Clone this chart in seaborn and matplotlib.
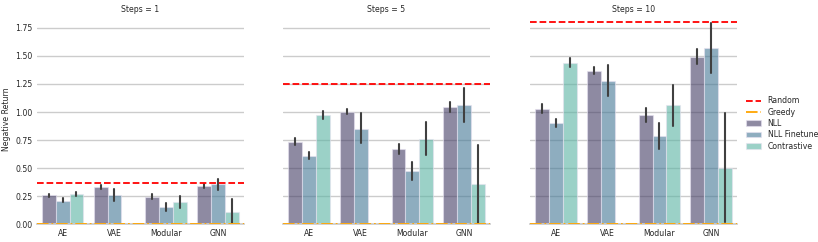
import pandas as pd
import seaborn as sns
import numpy as np
import matplotlib.pyplot as plt
from matplotlib.lines import Line2D

models = ["AE", "VAE", "Modular", "GNN"]
methods = ["NLL", "NLL Finetune", "Contrastive"]
steps = [1, 5, 10]

random_ret = [0.37, 1.25, 1.80]
greedy_ret = [0.0, 0.0, 0.0]

# value, low, high per model (rows) and method (cols); None = not run
val_1 = [[0.259, 0.210, 0.268], [0.330, 0.260, None], [0.246, 0.152, 0.199], [0.345, 0.357, 0.110]]
lo_1 = [[0.246, 0.196, 0.253], [0.315, 0.210, None], [0.229, 0.121, 0.148], [0.321, 0.306, 0.003]]
hi_1 = [[0.273, 0.232, 0.286], [0.350, 0.315, None], [0.270, 0.188, 0.253], [0.362, 0.404, 0.226]]

val_5 = [[0.733, 0.611, 0.974], [1.003, 0.849, None], [0.668, 0.472, 0.763], [1.043, 1.063, 0.359]]
lo_5 = [[0.704, 0.585, 0.938], [0.983, 0.727, None], [0.626, 0.397, 0.620], [0.998, 0.911, 0.009]]
hi_5 = [[0.766, 0.644, 1.010], [1.030, 0.995, None], [0.715, 0.552, 0.909], [1.087, 1.212, 0.709]]

val_10 = [[1.025, 0.906, 1.435], [1.366, 1.277, None], [0.974, 0.784, 1.060], [1.494, 1.574, 0.499]]
lo_10 = [[0.990, 0.870, 1.400], [1.337, 1.146, None], [0.912, 0.674, 0.879], [1.431, 1.351, 0.023]]
hi_10 = [[1.070, 0.939, 1.480], [1.405, 1.417, None], [1.034, 0.903, 1.241], [1.563, 1.790, 0.989]]

vals = [val_1, val_5, val_10]
los = [lo_1, lo_5, lo_10]
his = [hi_1, hi_5, hi_10]

rows = []
for s, v, l, h in zip(steps, vals, los, his):
    for i, m in enumerate(models):
        for j, meth in enumerate(methods):
            if v[i][j] is None:
                continue
            for x in (l[i][j], v[i][j], h[i][j]):
                rows.append({"Steps": s, "Model": m, "Method": meth, "Return": x})
data = pd.DataFrame(rows)

sns.set_theme(style="whitegrid")
fs = 5.6
plt.rcParams["font.size"] = fs

fig = plt.figure(figsize=(8.18, 2.42), dpi=100)
axes = []
lefts = [0.045, 0.346, 0.648]
for k in range(3):
    ax = fig.add_axes([lefts[k], 0.073, 0.253, 0.87])
    axes.append(ax)

for k, ax in enumerate(axes):
    d = data[data["Steps"] == steps[k]]
    sns.barplot(data=d, x="Model", y="Return", hue="Method", order=models,
                hue_order=methods, palette="mako", alpha=0.6, ax=ax,
                estimator="median", errorbar=lambda v: (v.min(), v.max()),
                err_kws={"color": ".25", "linewidth": 1.5},
                edgecolor="#e6e2f0", linewidth=0.8, legend=(k == 2))
    ax.axhline(random_ret[k], color="red", ls="--", lw=1.3, zorder=5)
    ax.axhline(greedy_ret[k], color="orange", ls="-.", lw=1.3, zorder=5)
    ax.set_ylim(0, 1.875)
    ax.set_yticks(np.arange(0, 1.76, 0.25))
    ax.set_title(f"Steps = {steps[k]}", fontsize=fs, pad=1.5)
    ax.set_xlabel("")
    ax.tick_params(labelsize=fs, length=0, pad=3)
    if k == 0:
        ax.set_ylabel("Negative Return", fontsize=fs, labelpad=3)
    else:
        ax.set_ylabel("")
        ax.set_yticklabels([])
    sns.despine(ax=ax, left=True)

h, lab = axes[2].get_legend_handles_labels()
axes[2].get_legend().remove()
lines = [Line2D([], [], color="red", ls="--", lw=1.3),
         Line2D([], [], color="orange", ls="-.", lw=1.3)]
fig.legend(lines + h[-3:], ["Random", "Greedy"] + lab[-3:], loc="center left",
           bbox_to_anchor=(0.905, 0.49), frameon=False, fontsize=fs,
           handlelength=2, labelspacing=0.3, borderpad=0.2)

fig.savefig("out.png", dpi=100)
